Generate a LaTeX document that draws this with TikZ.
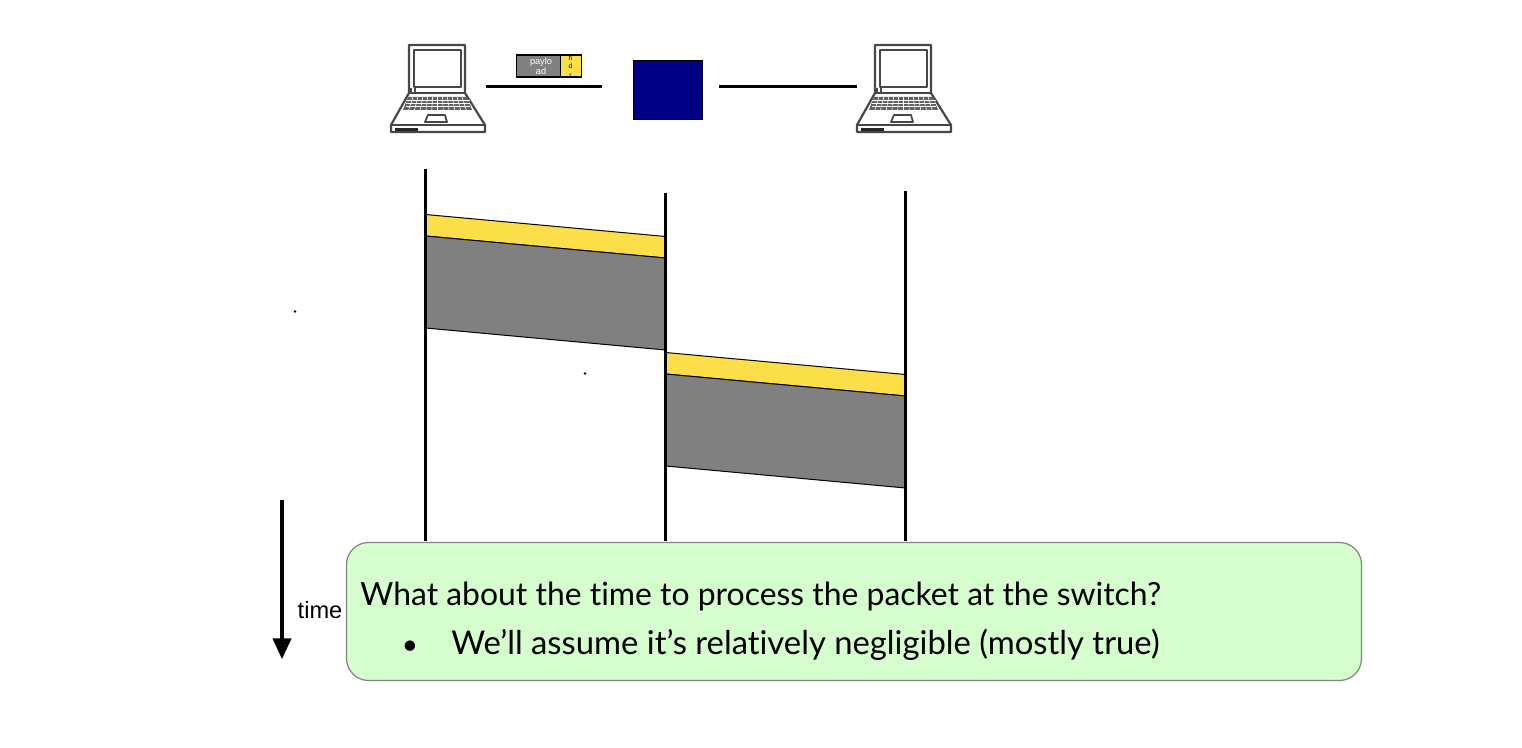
\documentclass[tikz,border=0pt]{standalone}
\usepackage{fontspec}
\setmainfont{Liberation Sans}
\newfontfamily\gillfont[Ligatures=NoCommon]{Lato}
\definecolor{hdryellow}{RGB}{252,222,72}
\definecolor{paygray}{RGB}{128,128,128}
\definecolor{swblue}{RGB}{0,0,134}
\definecolor{notegreen}{RGB}{213,253,205}
\definecolor{noteedge}{RGB}{125,135,125}
\tikzset{
  lap/.style={draw=black!72,line width=1.1pt,fill=white,line join=round},
  wire/.style={draw=black,line width=1.5pt},
  lifeline/.style={draw=black,line width=1.5pt},
  band/.style={draw=black,line width=0.5pt},
  dotmark/.style={circle,fill=black,inner sep=0pt,minimum size=1.4pt},
  laptop/.pic={
    \path[lap] (18,0) -- (74,0) -- (74,48) -- (94,80) -- (94,87) -- (0,87) -- (0,80) -- (18,48) -- cycle;
    \path[lap,line width=0.9pt] (23,5) rectangle (70,42);
    \draw[lap,fill=none,line width=0.9pt] (18,48) -- (74,48);
    \draw[lap,fill=none] (0,80) -- (94,80);
    \path[fill=black!62] (17,52) -- (76,52) -- (81,65) -- (12,65) -- cycle;
    \foreach \t in {0.25,0.5,0.75} \draw[white,line width=0.3pt] (14.5,52+13*\t) -- (78.5,52+13*\t);
    \foreach \t in {1,...,11} \draw[white,line width=0.3pt] (17+\t*59/12,52) -- (12+\t*69/12,65);
    \path[lap,line width=0.9pt] (37,70) -- (54,70) -- (56,77) -- (34,77) -- cycle;
    \fill[black!85] (4,83) rectangle (27,86);
    \draw[black!70,line width=0.6pt] (20,43.5) -- (20,47) (24,43.5) -- (24,47);
  }
}
\begin{document}
\begin{tikzpicture}[x=0.5pt,y=-0.5pt]
\useasboundingbox[fill=white] (0,0) rectangle (1522,748);

\pic at (391,45) {laptop};
\pic at (857,45) {laptop};

\coordinate (w1a) at (486,86.5);
\coordinate (w1b) at (602,86.5);
\coordinate (w2a) at (719,87);
\coordinate (w2b) at (857,87);
\draw[wire] (w1a) -- (w1b);
\draw[wire] (w2a) -- (w2b);
\node[draw=black,line width=0.4pt,fill=swblue,minimum width=34.5pt,minimum height=29.5pt,inner sep=0pt] (switch) at (668,90) {};

\node[draw=black,line width=0.8pt,fill=paygray,minimum width=22pt,minimum height=11pt,inner sep=0pt] (payload) at (538.5,66) {};
\node[draw=black,line width=0.8pt,fill=hdryellow,minimum width=10.5pt,minimum height=11pt,inner sep=0pt] (hdr) at (571,66) {};
\node[text=white,inner sep=0pt,align=center,font=\fontsize{4.6}{5.1}\selectfont] (paytext) at (541,66.5) {paylo\\ad};
\node[inner sep=0pt,align=center,font=\fontsize{3.3}{4.4}\selectfont] (hdrtext) at (570.5,66.5) {h\\d\\r};

\coordinate (a0) at (425,169);
\coordinate (a1) at (425,541);
\coordinate (b0) at (665,193);
\coordinate (b1) at (665,541);
\coordinate (c0) at (905,191);
\coordinate (c1) at (905,541);

\draw[band,fill=hdryellow] (425.5,214.5) -- (665.5,236.5) -- (665.5,258) -- (425.5,236) -- cycle;
\draw[band,fill=paygray] (425.5,236) -- (665.5,258) -- (665.5,350) -- (425.5,328) -- cycle;
\draw[band,fill=hdryellow] (665.5,352.5) -- (905.5,374.5) -- (905.5,396) -- (665.5,374) -- cycle;
\draw[band,fill=paygray] (665.5,374) -- (905.5,396) -- (905.5,488) -- (665.5,466) -- cycle;

\draw[lifeline] (a0) -- (a1);
\draw[lifeline] (b0) -- (b1);
\draw[lifeline] (c0) -- (c1);

\node[dotmark] (d1) at (295,311.5) {};
\node[dotmark] (d2) at (585,373.5) {};

\coordinate (t0) at (282,500);
\coordinate (t1) at (282,640);
\draw[line width=1.6pt,draw=black] (t0) -- (t1);
\path[fill=black] (272.5,638.5) -- (291.5,638.5) -- (282,659) -- cycle;
\node[font=\fontsize{11.8}{13}\selectfont,inner sep=0pt] (timelbl) at (320,610.5) {time};

\node[draw=noteedge,line width=0.6pt,fill=notegreen,rounded corners=11pt,minimum width=507.5pt,minimum height=69pt,inner sep=0pt] (note) at (854,611.5) {};
\node[anchor=base west,inner sep=0pt,font=\gillfont\fontsize{15.95}{18}\selectfont] (q) at (360,605.5) {What about the time to process the packet at the switch?};
\node[anchor=base,inner sep=0pt,font=\gillfont\fontsize{14}{18}\selectfont] (bul) at (410,654) {•};
\node[anchor=base west,inner sep=0pt,font=\gillfont\fontsize{16.4}{18}\selectfont] (a) at (451,654) {We’ll assume it’s relatively negligible (mostly true)};
\end{tikzpicture}
\end{document}
